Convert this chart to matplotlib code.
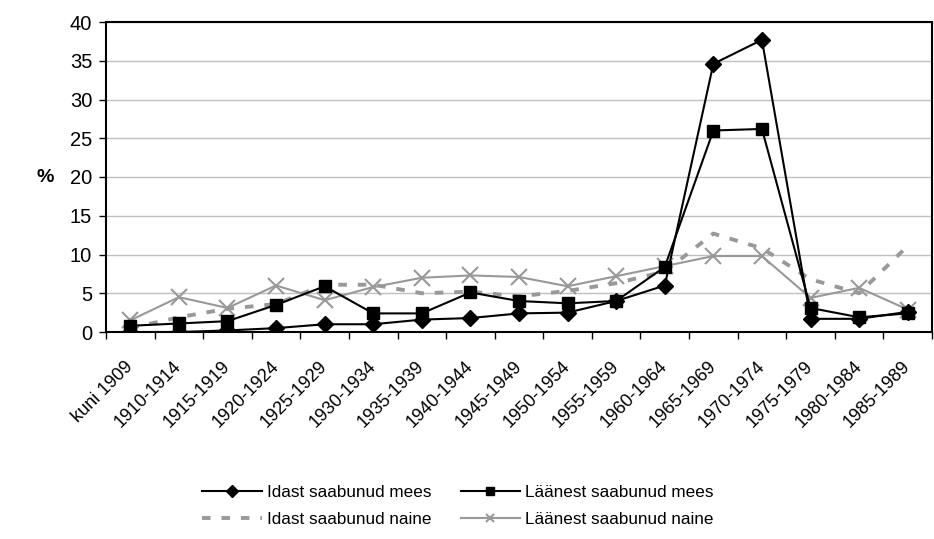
import matplotlib
matplotlib.use("Agg")
import matplotlib.pyplot as plt
import numpy as np

plt.rcParams["font.family"] = ["Liberation Sans", "DejaVu Sans"]
plt.rcParams["font.size"] = 10

periods = [
    "kuni 1909", "1910-1914", "1915-1919", "1920-1924", "1925-1929",
    "1930-1934", "1935-1939", "1940-1944", "1945-1949", "1950-1954",
    "1955-1959", "1960-1964", "1965-1969", "1970-1974", "1975-1979",
    "1980-1984", "1985-1989",
]
idast_mees = [0.0, 0.0, 0.2, 0.5, 1.0, 1.0, 1.6, 1.8, 2.4, 2.5, 4.0, 6.0,
              34.6, 37.7, 1.7, 1.7, 2.6]
laanest_mees = [0.8, 1.1, 1.4, 3.5, 5.9, 2.4, 2.4, 5.1, 4.0, 3.7, 4.0, 8.4,
                26.0, 26.2, 3.1, 1.9, 2.4]
idast_naine = [0.5, 1.9, 3.0, 3.6, 6.1, 6.1, 5.0, 5.2, 4.6, 5.3, 6.3, 7.8,
               12.7, 10.8, 6.8, 5.0, 11.1]
laanest_naine = [1.5, 4.5, 3.1, 6.0, 4.1, 5.8, 7.0, 7.3, 7.1, 5.9, 7.2, 8.5,
                 9.8, 9.8, 4.4, 5.7, 2.9]

fig = plt.figure(figsize=(9.34, 5.39), dpi=100)
ax = fig.add_axes([106 / 934, 1 - 332 / 539, 826 / 934, 310 / 539])

x = np.arange(len(periods))
gray = "#999999"

l1, = ax.plot(x, idast_mees, color="black", lw=1.5, marker="D", ms=8,
              label="Idast saabunud mees", zorder=4)
l2, = ax.plot(x, laanest_mees, color="black", lw=1.5, marker="s", ms=9,
              label="Läänest saabunud mees", zorder=4)
l3, = ax.plot(x, idast_naine, color=gray, lw=2.8, dashes=(2.2, 2.8),
              label="Idast saabunud naine", zorder=3)
l4, = ax.plot(x, laanest_naine, color=gray, lw=1.5, marker="x", ms=11,
              mew=1.5, label="Läänest saabunud naine", zorder=3)

ax.set_xlim(-0.5, len(periods) - 0.5)
ax.set_ylim(0, 40)
ax.set_yticks(np.arange(0, 41, 5))
ax.yaxis.grid(True, color="#c0c0c0", lw=1)
ax.set_axisbelow(True)

ax.set_xticks(x)
ax.set_xticklabels(periods, rotation=45, ha="right", va="center",
                   rotation_mode="anchor", fontsize=13)
ax.set_xticks(np.arange(-0.5, len(periods)), minor=True)
ax.tick_params(axis="x", which="major", length=0, pad=23)
ax.tick_params(axis="x", which="minor", length=5, width=1, direction="out")
ax.tick_params(axis="y", length=5, width=1, direction="out", pad=5,
               labelsize=14.5)

for side in ax.spines.values():
    side.set_linewidth(1.5)
    side.set_color("black")

fig.text(45 / 934, 1 - 178 / 539, "%", fontsize=14, fontweight="bold",
         ha="center", va="center")

# order so that the rows read: mees / mees, naine / naine
leg = fig.legend([l1, l3, l2, l4], [l.get_label() for l in (l1, l3, l2, l4)],
                 loc="center", bbox_to_anchor=(458 / 934, 1 - 506 / 539),
                 ncol=2, frameon=False, handlelength=3.5, fontsize=12.3,
                 columnspacing=1.7, labelspacing=0.7, handletextpad=0.3)
for h in leg.legend_handles:
    h.set_markersize(6)

fig.savefig("out.png", dpi=100)
